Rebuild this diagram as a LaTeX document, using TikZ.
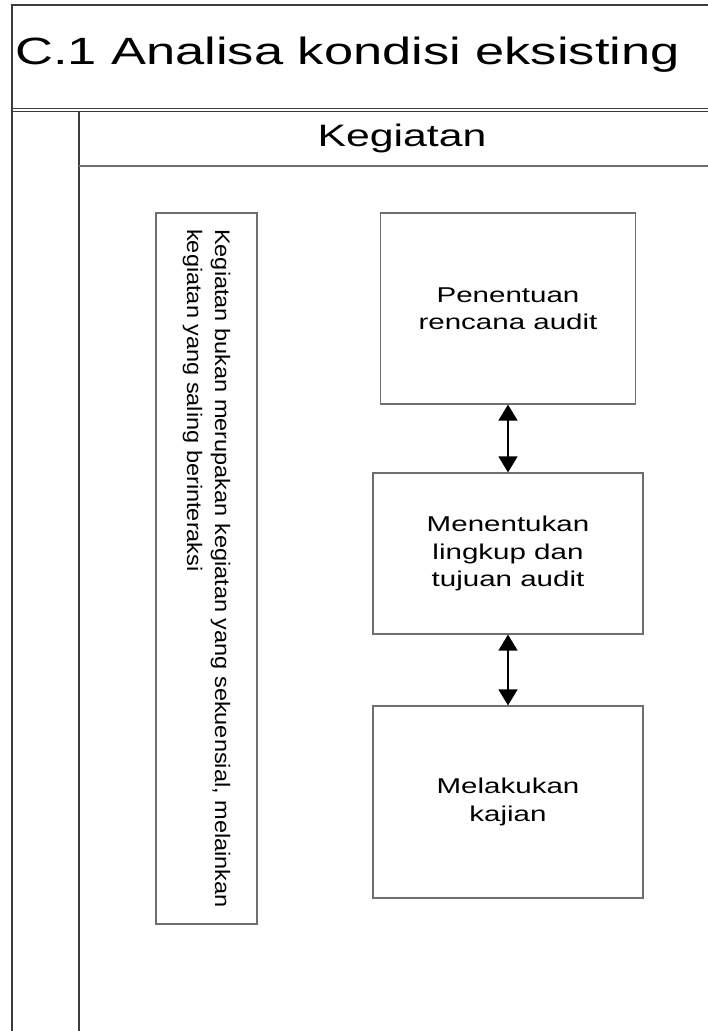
\documentclass[tikz,border=0pt]{standalone}
\usepackage{fontspec}
\setmainfont{Liberation Sans}
\newfontfamily\widesans[FakeStretch=1.38]{Liberation Sans}
\newfontfamily\notesans[FakeStretch=1.12]{Liberation Sans}
\usetikzlibrary{arrows.meta,positioning}
\definecolor{Frame}{HTML}{3C3C3C}
\definecolor{Edge}{HTML}{6E6E6E}

\begin{document}
\begin{tikzpicture}[x=1pt,y=-1pt,
  stepbox/.style={draw=Edge,line width=1.2pt,minimum width=270pt,minimum height=161pt,
    align=center,inner sep=0pt,font=\widesans\fontsize{21.4}{27.5}\selectfont},
  notebox/.style={draw=Edge,line width=1.2pt,rotate=-90,minimum width=711pt,minimum height=101pt,
    align=left,inner xsep=15pt,inner ysep=0pt,font=\notesans\fontsize{21}{28}\selectfont},
  frame/.style={draw=Frame,line width=1.5pt},
  link/.style={{Triangle[length=16pt,width=19pt]}-{Triangle[length=16pt,width=19pt]},
    line width=1.5pt,black}]
  \useasboundingbox (0,0) rectangle (708,1031);
  \clip (0,0) rectangle (708,1031);
  % pool frame and lane
  \draw[frame] (12,1045) -- (12,5) -- (720,5);
  \draw[frame,line width=1pt] (12,108) -- (720,108);
  \draw[frame,line width=1pt] (12,111) -- (720,111);
  \draw[frame] (79,111) -- (79,1045);
  \draw[frame,draw=Edge] (79,166) -- (720,166);
  \node[anchor=base west,inner sep=0pt,font=\widesans\fontsize{38}{45}\selectfont]
    (title) at (15,64) {C.1 Analisa kondisi eksisting};
  \node[anchor=base,inner sep=0pt,font=\widesans\fontsize{31}{37}\selectfont]
    (lane) at (402,146) {Kegiatan};
  % activities
  \node[notebox] (note) at (206.5,568.5)
    {Kegiatan bukan merupakan kegiatan yang sekuensial, melainkan\\
     kegiatan yang saling berinteraksi};
  \node[stepbox,minimum width=255pt,minimum height=191pt] (plan) at (508,308.5)
    {Penentuan\\rencana audit};
  \node[stepbox] (scope) at (508,553.5) {Menentukan\\lingkup dan\\tujuan audit};
  \node[stepbox,minimum height=192pt] (study) at (508,802) {Melakukan\\kajian};
  \draw[link] (plan) -- (scope);
  \draw[link] (scope) -- (study);
\end{tikzpicture}
\end{document}
